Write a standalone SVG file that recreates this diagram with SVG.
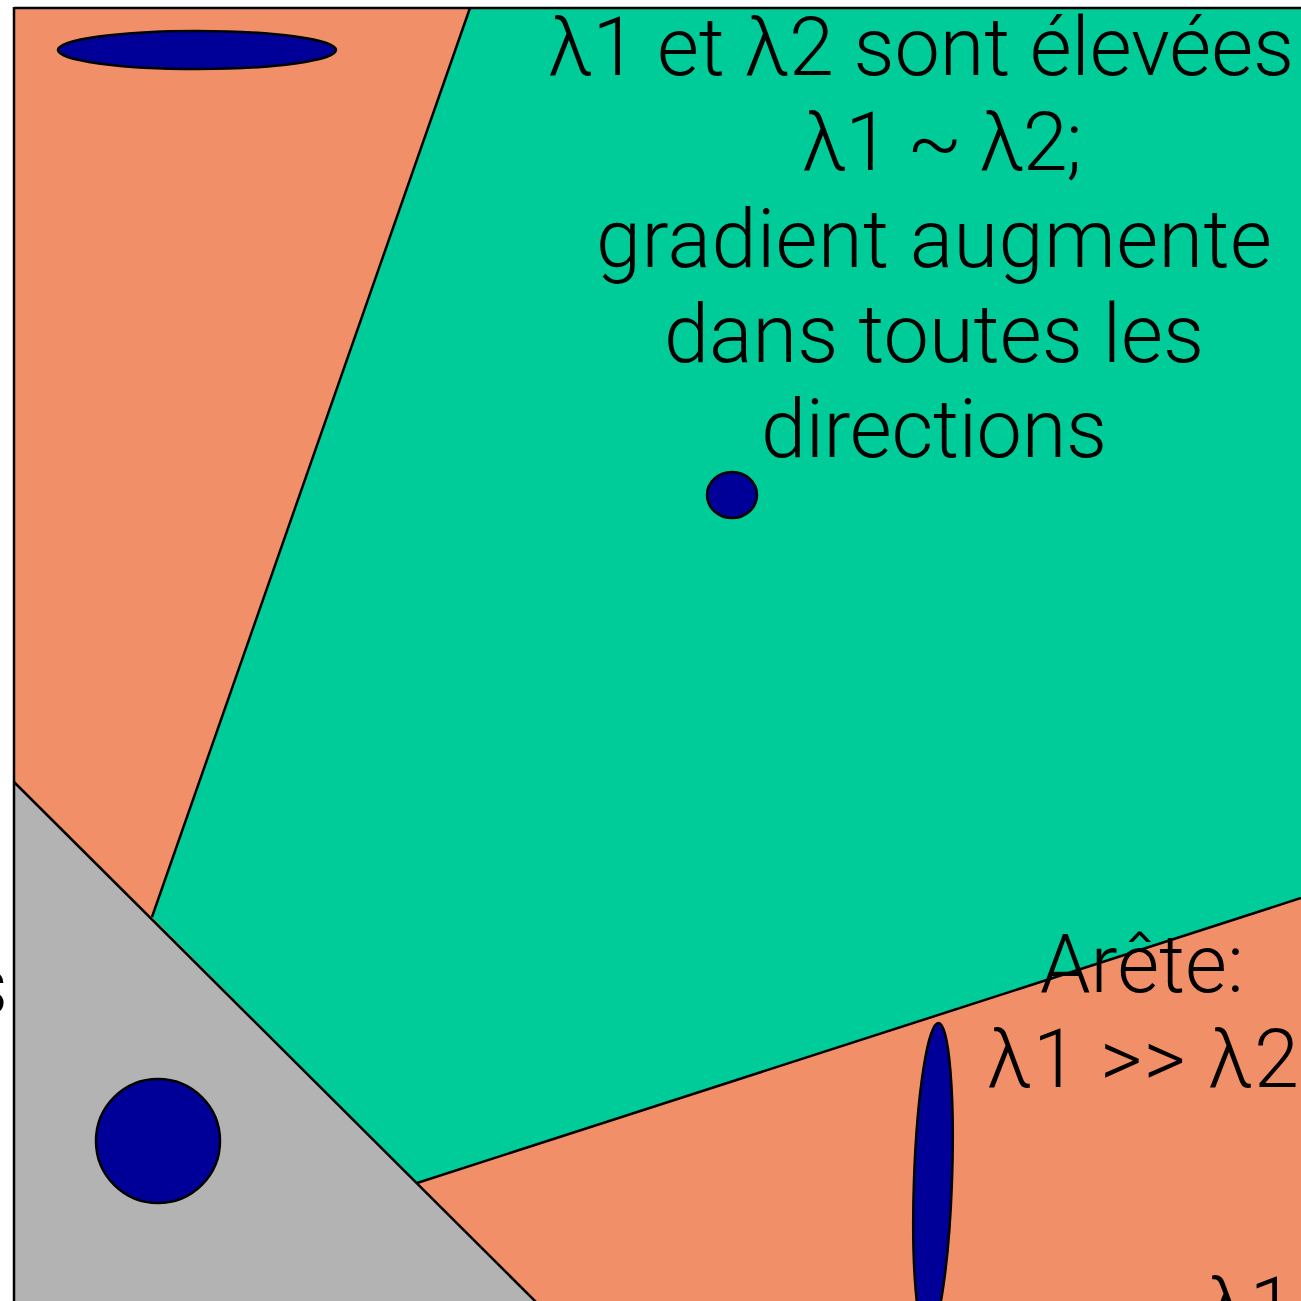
<svg xmlns="http://www.w3.org/2000/svg" width="1301" height="1301" viewBox="0 0 1301 1301">
<style>
.lbl{font-family:Roboto,"Liberation Sans",Arial,sans-serif;font-weight:300;font-size:81px;fill:#000;}
.edge{stroke:#000;stroke-width:2.5;fill:none;}
.blob{fill:#000099;stroke:#000;stroke-width:2.5;}
</style>
<rect x="0" y="0" width="1301" height="1301" fill="#fff"/>
<g id="region-orange"><rect x="14" y="8" width="1300" height="1300" fill="#F18F68"/></g>
<g id="region-green"><polygon points="470,8 1301,8 1301,898 417,1183 152,917" fill="#00CC9A"/></g>
<g id="region-gray"><polygon points="14,782 535,1301 14,1301" fill="#B3B3B3"/></g>
<g id="connectors">
<line class="edge" x1="470" y1="8" x2="152" y2="917"/>
<line class="edge" x1="1301" y1="898" x2="417" y2="1183"/>
<line class="edge" x1="14" y1="782" x2="537" y2="1303"/>
<line class="edge" x1="14" y1="8" x2="1301" y2="8"/>
<line class="edge" x1="14" y1="7" x2="14" y2="1301"/>
</g>
<g id="blob-flat"><ellipse class="blob" cx="197" cy="50" rx="139" ry="19"/></g>
<g id="blob-small"><ellipse class="blob" cx="732" cy="495" rx="25" ry="23"/></g>
<g id="blob-large"><ellipse class="blob" cx="158" cy="1141" rx="62" ry="62"/></g>
<g id="blob-tall"><ellipse class="blob" cx="933" cy="1180" rx="19" ry="157" transform="rotate(2 933 1180)"/></g>
<g id="label-corner">
<text class="lbl" x="921" y="75" text-anchor="middle" textLength="746">λ1 et λ2 sont élevées</text>
<text class="lbl" x="942" y="170" text-anchor="middle" textLength="280">λ1 ~ λ2;</text>
<text class="lbl" x="934" y="267" text-anchor="middle" textLength="676">gradient augmente</text>
<text class="lbl" x="934" y="362" text-anchor="middle" textLength="540">dans toutes les</text>
<text class="lbl" x="934" y="457" text-anchor="middle" textLength="346">directions</text>
</g>
<g id="label-edge">
<text class="lbl" x="1142" y="992" text-anchor="middle" textLength="204">Arête:</text>
<text class="lbl" x="1143" y="1087" text-anchor="middle" textLength="312">λ1 &gt;&gt; λ2</text>
<text class="lbl" x="1205" y="1335">λ1</text>
</g>
<g id="label-left"><text class="lbl" x="8" y="1014" text-anchor="end">s</text></g>
</svg>
